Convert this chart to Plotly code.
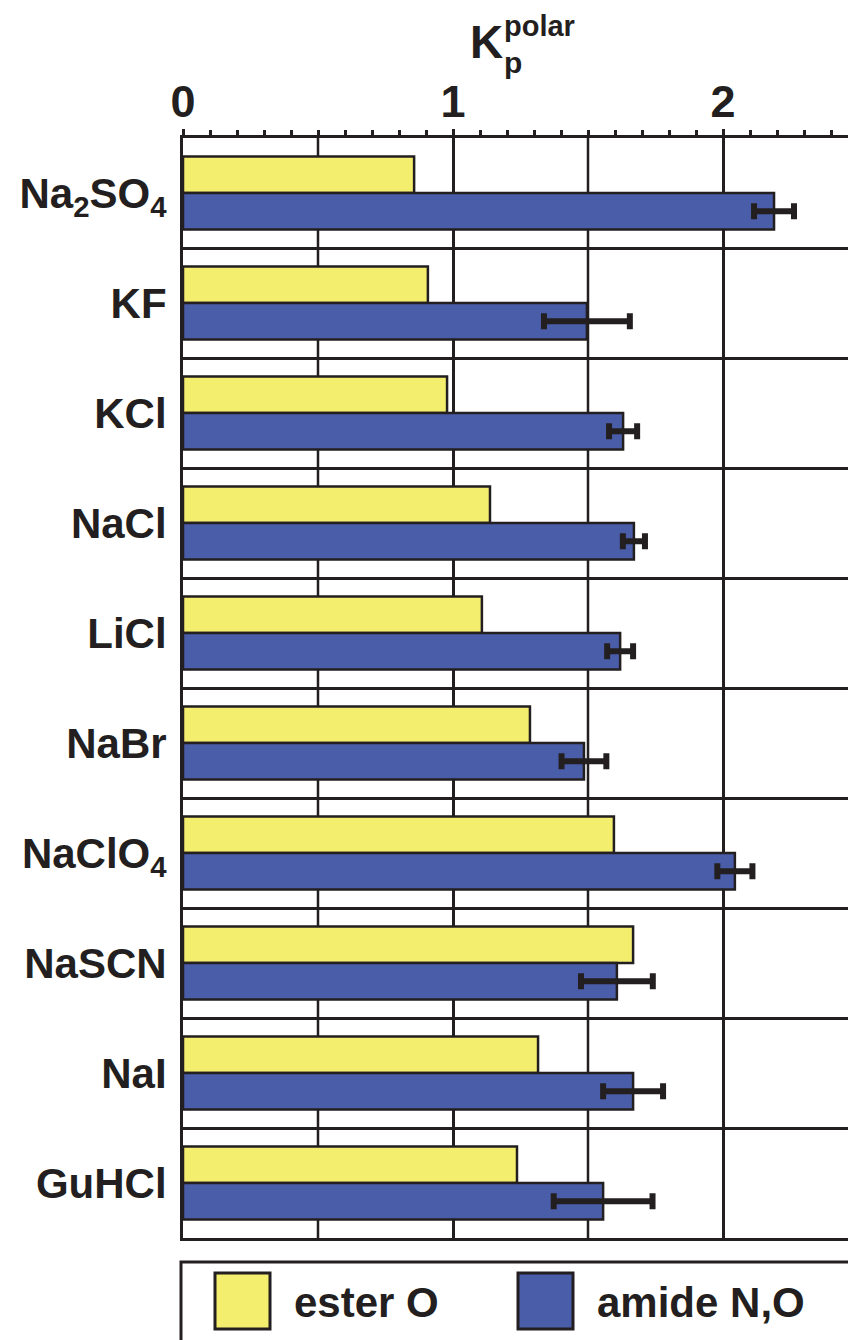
import plotly.graph_objects as go

# Salts, top to bottom
salts = ["Na<sub>2</sub>SO<sub>4</sub>", "KF", "KCl", "NaCl", "LiCl",
         "NaBr", "NaClO<sub>4</sub>", "NaSCN", "NaI", "GuHCl"]

# Partition coefficients of the polar surface groups
ester_o = [0.856, 0.907, 0.978, 1.137, 1.107, 1.285, 1.596, 1.667, 1.315, 1.237]
amide_no = [2.189, 1.496, 1.630, 1.670, 1.619, 1.485, 2.044, 1.607, 1.667, 1.556]
amide_err = [0.074, 0.159, 0.052, 0.041, 0.048, 0.083, 0.065, 0.133, 0.111, 0.183]

series_names = ["ester O", "amide N,O"]
x_tick_vals = [0, 1, 2]
x_half_grid = [0.5, 1.5]

INK = "#231f20"
YELLOW = "#f4ee6e"
BLUE = "#4a5da9"
FONT = "Liberation Sans, Arial, sans-serif"

W, H = 848, 1340
L, T, R, B = 183, 138, 0, 102
PW, PH = W - L - R, H - T - B


def px(xp):
    return (xp - L) / PW


def py(yp):
    return (H - B - yp) / PH


fig = go.Figure()
fig.add_trace(go.Bar(
    y=salts, x=ester_o, orientation="h", name=series_names[0],
    marker=dict(color=YELLOW, line=dict(color=INK, width=2.5)),
))
fig.add_trace(go.Bar(
    y=salts, x=amide_no, orientation="h", name=series_names[1],
    marker=dict(color=BLUE, line=dict(color=INK, width=2.5)),
    error_x=dict(type="data", array=amide_err, symmetric=True,
                 color=INK, thickness=6, width=8),
))

fig.update_layout(
    width=W, height=H,
    margin=dict(l=L, r=R, t=T, b=B, pad=0),
    paper_bgcolor="white", plot_bgcolor="white",
    barmode="group", bargap=0.336, bargroupgap=0,
    showlegend=False,
    font=dict(family=FONT, color=INK),
    xaxis=dict(
        side="top", range=[0, PW / 270.0],
        tickvals=x_tick_vals,
        ticks="outside", ticklen=6, tickwidth=2.5, tickcolor=INK,
        tickfont=dict(size=45, family=FONT, color=INK, weight="bold"),
        ticklabelstandoff=-6,
        showgrid=True, gridcolor=INK, gridwidth=2.5,
        showline=True, linecolor=INK, linewidth=3, mirror=True,
        zeroline=False,
        minor=dict(dtick=0.1, ticks="outside", ticklen=5, tickwidth=2.5,
                   tickcolor=INK, showgrid=False),
    ),
    yaxis=dict(
        type="category", autorange="reversed",
        tickson="boundaries", ticks="",
        tickfont=dict(size=42, family=FONT, color=INK, weight="bold"),
        ticklabelstandoff=5,
        showgrid=True, gridcolor=INK, gridwidth=2.5,
        showline=True, linecolor=INK, linewidth=3,
        zeroline=False,
    ),
)

# Half-unit vertical grid lines
for gx in x_half_grid:
    fig.add_shape(type="line", xref="x", yref="paper", x0=gx, x1=gx, y0=0, y1=1,
                  layer="below", line=dict(color=INK, width=2.5))

# Axis title: K with stacked sub/superscript
ann_font = dict(family=FONT, color=INK, weight="bold")
fig.add_annotation(text="K", xref="paper", yref="paper", x=px(468), y=py(70),
                   xanchor="left", yanchor="bottom", showarrow=False,
                   font=dict(size=46, **ann_font))
fig.add_annotation(text="polar", xref="paper", yref="paper", x=px(502), y=py(44),
                   xanchor="left", yanchor="bottom", showarrow=False,
                   font=dict(size=29, **ann_font))
fig.add_annotation(text="p", xref="paper", yref="paper", x=px(502), y=py(44),
                   xanchor="left", yanchor="top", showarrow=False,
                   font=dict(size=30, **ann_font))

# Legend box with swatches
fig.add_shape(type="rect", xref="paper", yref="paper",
              x0=px(181), x1=px(880), y0=py(1262), y1=py(1380),
              line=dict(color=INK, width=3), fillcolor="white")
legend_items = [(series_names[0], YELLOW, 215, 292), (series_names[1], BLUE, 518, 595)]
for name, color, sx, tx in legend_items:
    fig.add_shape(type="rect", xref="paper", yref="paper",
                  x0=px(sx), x1=px(sx + 55), y0=py(1329), y1=py(1273),
                  line=dict(color=INK, width=3), fillcolor=color)
    fig.add_annotation(text=name, xref="paper", yref="paper", x=px(tx), y=py(1302),
                       xanchor="left", yanchor="middle", showarrow=False,
                       font=dict(size=42, **ann_font))

fig.write_html("out.html")
